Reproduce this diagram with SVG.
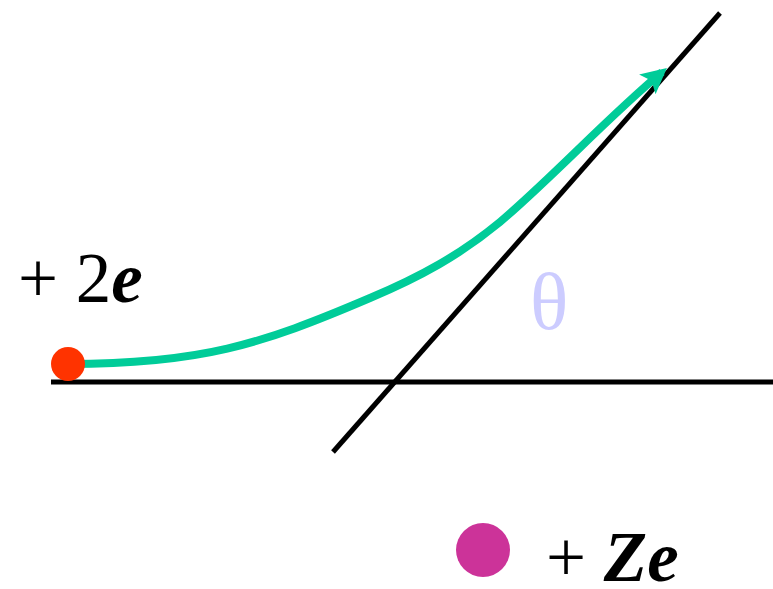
<svg xmlns="http://www.w3.org/2000/svg" width="773" height="589" viewBox="0 0 773 589">
<defs>
<style>
.ax{stroke:#000;stroke-width:5;fill:none}
.lbl{font-family:"Liberation Serif","Times New Roman",serif;font-size:71px;fill:#000}
.bi{font-weight:bold;font-style:italic}
</style>
<marker id="ah" markerWidth="4" markerHeight="4" refX="2.4" refY="1.6" orient="auto" markerUnits="strokeWidth">
<path d="M0,0 L3.2,1.6 L0,3.2 L0.7,1.6 Z" fill="#00CC99"/>
</marker>
</defs>
<rect width="773" height="589" fill="#fff"/>
<g id="connectors">
<line class="ax" x1="51" y1="382" x2="773" y2="382"/>
<line class="ax" x1="333" y1="452" x2="720" y2="13"/>
<path d="M68,364 C200,364 260,345 370,298 C420,277 460,255 500,222 C555,175 605,120 662,72" fill="none" stroke="#00CC99" stroke-width="8" marker-end="url(#ah)"/>
</g>
<g id="alpha">
<circle cx="68" cy="364" r="17" fill="#FF3300"/>
<text class="lbl" x="18" y="302">+ 2<tspan class="bi">e</tspan></text>
</g>
<g id="nucleus">
<circle cx="483" cy="550" r="27" fill="#CC3399"/>
<text class="lbl" x="546" y="581">+ <tspan class="bi">Ze</tspan></text>
</g>
<g id="theta">
<text x="530" y="329" font-family="Liberation Serif,'Times New Roman',serif" font-size="80" fill="#CCCCFF">θ</text>
</g>
</svg>
